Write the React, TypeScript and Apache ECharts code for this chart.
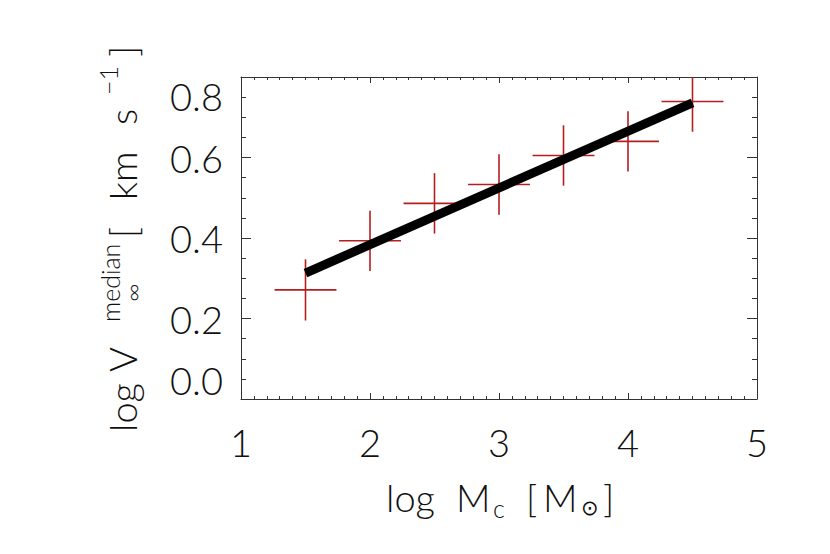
import React, { useEffect, useRef } from "react";
import * as echarts from "echarts";

// ---- data ----
const binX = [1.5, 2.0, 2.5, 3.0, 3.5, 4.0, 4.5];
const medianV = [0.271, 0.393, 0.486, 0.533, 0.605, 0.640, 0.739];
const errV = [0.076, 0.075, 0.075, 0.075, 0.075, 0.075, 0.075];
const errX = [0.24, 0.24, 0.24, 0.24, 0.24, 0.24, 0.24];
const fitX = [1.5, 4.5];
const fitY = [0.313, 0.736];
const xTicks = { min: 1, max: 5, interval: 1 };
const yTicks = { min: 0, max: 0.8, interval: 0.2 };

const RED = "#b41e1e";
const AXIS = "#333";
const TXT = "#111";
const FONT = "Lato, 'DejaVu Sans', sans-serif";

export default function App() {
  const ref = useRef<HTMLDivElement>(null);
  useEffect(() => {
    if (!ref.current) return;
    const chart = echarts.init(ref.current, undefined, { renderer: "svg" });
    const errData = binX.map((x, i) => [x, medianV[i], errV[i], errX[i]]);
    const fitData = fitX.map((x, i) => [x, fitY[i]]);

    const axisCommon = {
      axisLine: { show: true, onZero: false, lineStyle: { color: AXIS, width: 1 } },
      splitLine: { show: false },
    };

    const big = { fontFamily: FONT, fontWeight: 300, fontSize: 38, fill: TXT };
    const small = { fontFamily: FONT, fontWeight: 300, fontSize: 25, fill: TXT };

    const mk = (text: string, x: number, y: number, st: any) => ({
      type: "text",
      x,
      y,
      style: { text, ...st, align: "left", verticalAlign: "middle" },
    });

    chart.setOption({
      animation: false,
      backgroundColor: "#fff",
      grid: { left: 241, top: 77, width: 516, height: 322, containLabel: false },
      xAxis: [
        {
          type: "value",
          position: "bottom",
          ...xTicks,
          ...axisCommon,
          axisTick: { show: true, inside: true, length: 6, lineStyle: { color: AXIS } },
          minorTick: { show: true, splitNumber: 10, length: 3, lineStyle: { color: AXIS } },
          axisLabel: {
            show: true,
            margin: 24,
            fontSize: 38,
            fontFamily: FONT,
            fontWeight: 300,
            color: TXT,
            showMinLabel: true,
            showMaxLabel: true,
          },
        },
        {
          type: "value",
          position: "top",
          ...xTicks,
          ...axisCommon,
          axisTick: { show: true, inside: true, length: 6, lineStyle: { color: AXIS } },
          minorTick: { show: true, splitNumber: 10, length: 3, lineStyle: { color: AXIS } },
          axisLabel: { show: false },
        },
      ],
      yAxis: [
        {
          type: "value",
          position: "left",
          ...yTicks,
          ...axisCommon,
          axisTick: { show: true, inside: true, length: 10, lineStyle: { color: AXIS } },
          minorTick: { show: true, splitNumber: 4, length: 5, lineStyle: { color: AXIS } },
          axisLabel: {
            show: true,
            margin: 18,
            fontSize: 38,
            fontFamily: FONT,
            fontWeight: 300,
            color: TXT,
            formatter: (v: number) => v.toFixed(1),
            showMinLabel: true,
            showMaxLabel: true,
            verticalAlignMaxLabel: "top",
            verticalAlignMinLabel: "bottom",
          },
        },
        {
          type: "value",
          position: "right",
          ...yTicks,
          ...axisCommon,
          axisTick: { show: true, inside: true, length: 10, lineStyle: { color: AXIS } },
          minorTick: { show: true, splitNumber: 4, length: 5, lineStyle: { color: AXIS } },
          axisLabel: { show: false },
        },
      ],
      series: [
        {
          type: "custom",
          xAxisIndex: 0,
          yAxisIndex: 0,
          clip: true,
          z: 2,
          data: errData,
          renderItem: (params: any, api: any) => {
            const x = api.value(0);
            const y = api.value(1);
            const ye = api.value(2);
            const xe = api.value(3);
            const l = api.coord([x - xe, y]);
            const r = api.coord([x + xe, y]);
            const t = api.coord([x, Math.min(y + ye, yTicks.max)]);
            const b = api.coord([x, Math.max(y - ye, yTicks.min)]);
            const st = { stroke: RED, lineWidth: 1.6 };
            return {
              type: "group",
              children: [
                { type: "line", shape: { x1: l[0], y1: l[1], x2: r[0], y2: r[1] }, style: st },
                { type: "line", shape: { x1: t[0], y1: t[1], x2: b[0], y2: b[1] }, style: st },
              ],
            };
          },
        },
        {
          type: "line",
          xAxisIndex: 0,
          yAxisIndex: 0,
          z: 5,
          data: fitData,
          showSymbol: false,
          symbol: "none",
          lineStyle: { color: "#000", width: 9, cap: "butt" },
        },
      ],
      graphic: [
        {
          type: "group",
          children: [
            mk("log", 386, 497, big),
            mk("M", 456, 497, big),
            mk("c", 493, 508, small),
            mk("[", 526, 497, big),
            mk("M", 543, 497, big),
            { type: "text", x: 581, y: 508, style: { text: "⊙", fontFamily: "'DejaVu Sans'", fontSize: 21, fill: TXT, align: "left", verticalAlign: "middle" } },
            mk("]", 603, 497, big),
          ],
        },
        {
          type: "group",
          x: 122,
          y: 438,
          rotation: Math.PI / 2,
          children: [
            mk("log", 6, 0, big),
            mk("V", 66, 0, big),
            mk("median", 116, -12, small),
            mk("∞", 136, 10, small),
            mk("[", 200, 0, big),
            mk("km", 238, 0, big),
            mk("s", 313, 0, big),
            mk("−1", 343, -14, small),
            mk("]", 381, 0, big),
          ],
        },
      ],
    });
    return () => chart.dispose();
  }, []);
  return (
    <div
      ref={ref}
      style={{ position: "fixed", left: 0, top: 0, width: 830, height: 554 }}
    />
  );
}
